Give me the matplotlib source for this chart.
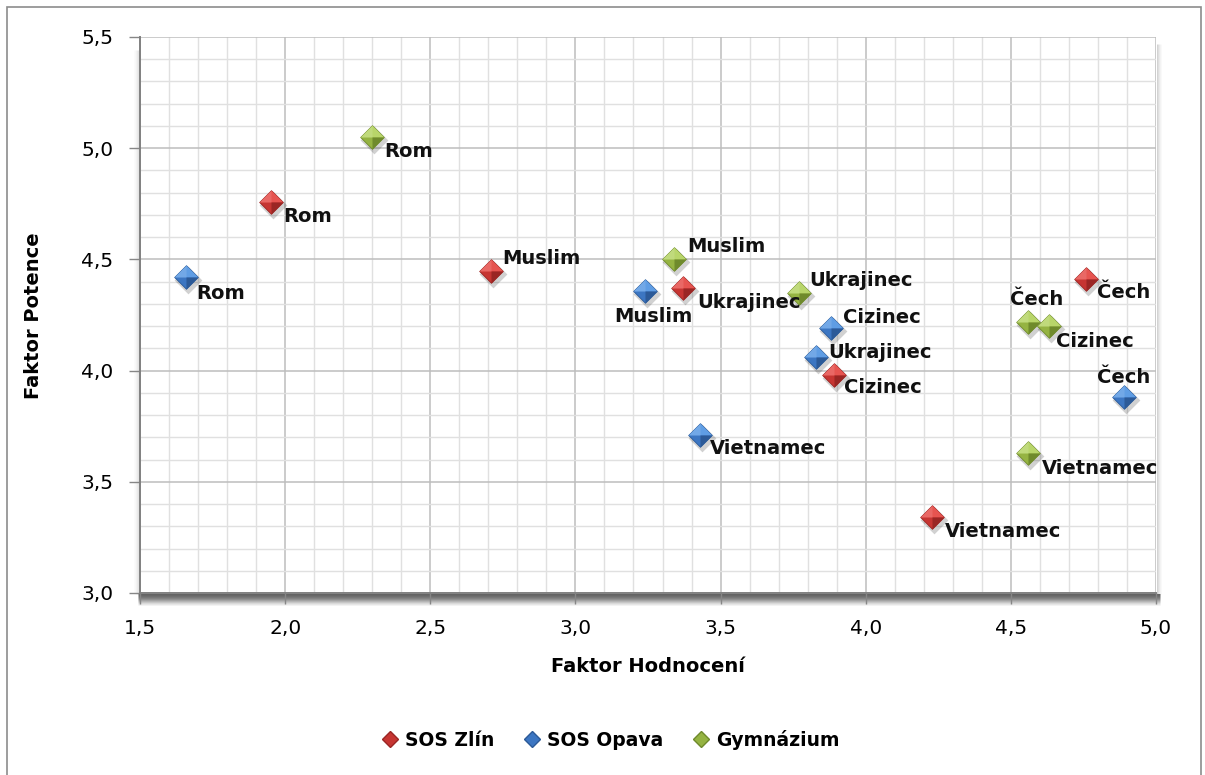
import matplotlib
matplotlib.use("Agg")
import matplotlib.pyplot as plt
from matplotlib.patches import Rectangle
from matplotlib.lines import Line2D
from matplotlib.ticker import MultipleLocator, FuncFormatter
from matplotlib.transforms import ScaledTranslation

plt.rcParams['font.family'] = ['DejaVu Sans']

# Factor scores per school group (Hodnocení, Potence)
zlin_names = ['Rom', 'Muslim', 'Ukrajinec', 'Cizinec', 'Čech', 'Vietnamec']
zlin_x = [1.95, 2.71, 3.37, 3.89, 4.76, 4.23]
zlin_y = [4.76, 4.45, 4.37, 3.98, 4.41, 3.34]

opava_names = ['Rom', 'Muslim', 'Vietnamec', 'Cizinec', 'Ukrajinec', 'Čech']
opava_x = [1.66, 3.24, 3.43, 3.88, 3.83, 4.89]
opava_y = [4.42, 4.36, 3.71, 4.19, 4.06, 3.88]

gym_names = ['Rom', 'Muslim', 'Ukrajinec', 'Čech', 'Cizinec', 'Vietnamec']
gym_x = [2.30, 3.34, 3.77, 4.56, 4.63, 4.56]
gym_y = [5.05, 4.50, 4.35, 4.22, 4.20, 3.63]

# label offsets in pixels (dx, dy downwards) and horizontal alignment
zlin_off = [(13, 15, 'left'), (11, -12, 'left'), (14, 14, 'left'),
            (10, 12, 'left'), (11, 13, 'left'), (12, 14, 'left')]
opava_off = [(10, 16, 'left'), (8, 26, 'center'), (10, 13, 'left'),
             (12, -11, 'left'), (12, -5, 'left'), (0, -20, 'center')]
gym_off = [(12, 14, 'left'), (13, -13, 'left'), (10, -12, 'left'),
           (8, -22, 'center'), (7, 15, 'left'), (14, 16, 'left')]

series = [
    ('SOS Zlín', zlin_x, zlin_y, zlin_names, zlin_off, ('#e65450', '#c63532', '#9a2624')),
    ('SOS Opava', opava_x, opava_y, opava_names, opava_off, ('#5f9de4', '#3c76c2', '#2c5a98')),
    ('Gymnázium', gym_x, gym_y, gym_names, gym_off, ('#b8d56a', '#95b342', '#6f8a2c')),
]

W, H = 1205, 775
fig = plt.figure(figsize=(W / 100, H / 100), dpi=100)


def px_axes(left, top, right, bottom, **kw):
    return fig.add_axes([left / W, 1 - bottom / H, (right - left) / W, (bottom - top) / H], **kw)


# outer chart border
fig.add_artist(Rectangle((7 / W, -0.01), (1201 - 7) / W, 1.01 - 7 / H,
                         transform=fig.transFigure, fill=False,
                         edgecolor='#8c8c8c', lw=1.2))

# blurred shadow along the bottom of the plot frame, one row per pixel
for i, a in enumerate([0.78, 0.76, 0.72, 0.68, 0.62, 0.55, 0.46, 0.37, 0.28, 0.19, 0.12, 0.06]):
    fig.add_artist(Line2D([138 / W, 1160 / W], [1 - (594 + i) / H] * 2,
                          transform=fig.transFigure, color='#383838', alpha=a,
                          lw=0.72, solid_capstyle='butt', zorder=0.5))
# fainter shadow on the right and left edges
for i, a in enumerate([0.3, 0.22, 0.14, 0.08, 0.04]):
    fig.add_artist(Line2D([(1157 + i) / W] * 2, [1 - 594 / H, 1 - 44 / H],
                          transform=fig.transFigure, color='#707070', alpha=a,
                          lw=0.72, solid_capstyle='butt', zorder=0.5))
    fig.add_artist(Line2D([(138 - i) / W] * 2, [1 - 594 / H, 1 - 50 / H],
                          transform=fig.transFigure, color='#808080', alpha=a * 0.7,
                          lw=0.72, solid_capstyle='butt', zorder=0.5))

ax = px_axes(140, 37, 1156, 593, zorder=1)

ax.set_xlim(1.5, 5.0)
ax.set_ylim(3.0, 5.5)
ax.xaxis.set_major_locator(MultipleLocator(0.5))
ax.yaxis.set_major_locator(MultipleLocator(0.5))
ax.xaxis.set_minor_locator(MultipleLocator(0.1))
ax.yaxis.set_minor_locator(MultipleLocator(0.1))
fmt = FuncFormatter(lambda v, p: f'{v:.1f}'.replace('.', ','))
ax.xaxis.set_major_formatter(fmt)
ax.yaxis.set_major_formatter(fmt)
ax.grid(which='major', color='#bdbdbd', lw=1.1)
ax.grid(which='minor', color='#e0e0e0', lw=1.0)
ax.set_axisbelow(True)
ax.tick_params(which='minor', length=0)
ax.tick_params(which='major', length=8, width=1, color='#868686',
               labelsize=14.5, pad=11)
for s in ['top', 'right']:
    ax.spines[s].set_visible(False)
for s in ['left', 'bottom']:
    ax.spines[s].set_color('#808080')
    ax.spines[s].set_linewidth(1.4)

fig.text(648 / W, 1 - 667 / H, 'Faktor Hodnocení', ha='center', va='center',
         fontsize=14, fontweight='bold')
fig.text(34 / W, 1 - 316 / H, 'Faktor Potence', ha='center', va='center',
         rotation=90, fontsize=14, fontweight='bold')

# faceted diamond marker pieces
full = [(0, 1), (1, 0), (0, -1), (-1, 0), (0, 1)]
top_half = [(-1, 0), (0, 1), (1, 0), (-1, 0)]
top_left = [(-1, 0), (0, 1), (0, 0), (-1, 0)]
low_right = [(0, 0), (1, 0), (0, -1), (0, 0)]
ms = 17
shadow = ax.transData + ScaledTranslation(2 / 100, -3 / 100, fig.dpi_scale_trans)

for name, xs, ys, labels, offs, (light, mid, dark) in series:
    ax.plot(xs, ys, ls='none', marker=full, ms=ms + 3, mfc='#000000', mec='none',
            alpha=0.18, zorder=3, transform=shadow)
    ax.plot(xs, ys, ls='none', marker=full, ms=ms, mfc=mid, mec=dark, mew=0.6, zorder=4)
    ax.plot(xs, ys, ls='none', marker=top_half, ms=ms, mfc=light, mec='none', zorder=5)
    ax.plot(xs, ys, ls='none', marker=top_left, ms=ms, mfc='white', mec='none',
            alpha=0.12, zorder=6)
    ax.plot(xs, ys, ls='none', marker=low_right, ms=ms, mfc=dark, mec='none', zorder=6)
    for x, y, lab, (dx, dy, ha) in zip(xs, ys, labels, offs):
        ax.annotate(lab, (x, y), xytext=(dx, -dy), textcoords='offset pixels',
                    ha=ha, va='center', fontsize=14, fontweight='bold',
                    color='#111111', zorder=7)

handles = [Line2D([], [], ls='none', marker='D', ms=8.5, mfc=c[5][1], mec=c[5][2])
           for c in series]
fig.legend(handles, [c[0] for c in series], loc='center', ncol=3,
           bbox_to_anchor=(610 / W, 1 - 740 / H), frameon=False,
           prop={'size': 13.5, 'weight': 'bold'}, handletextpad=0.3,
           columnspacing=1.5, handlelength=1.0)

fig.savefig('out.png', dpi=100)
